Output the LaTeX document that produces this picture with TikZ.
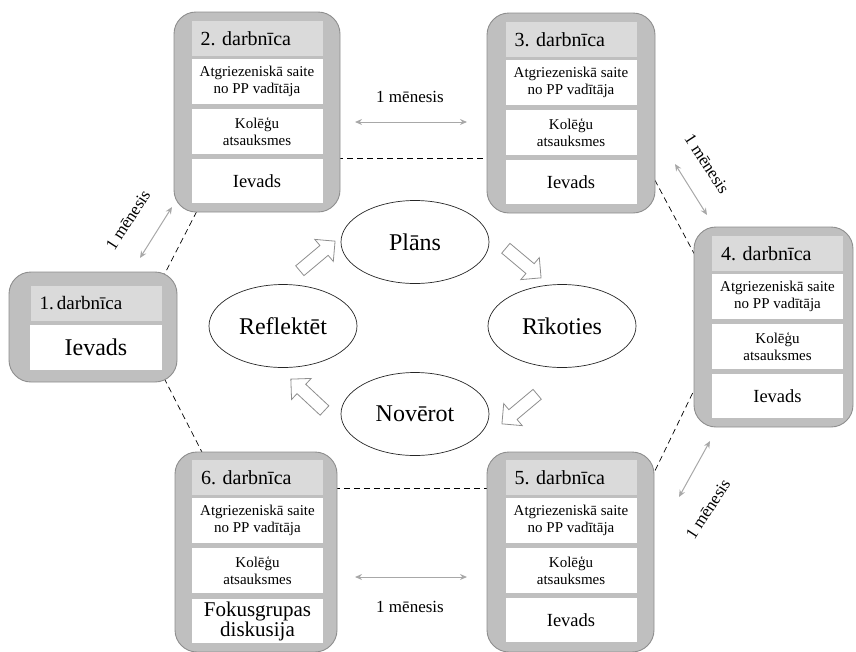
\documentclass[tikz,border=0pt]{standalone}
\usepackage{fontspec}
\setmainfont{Liberation Serif}
\usetikzlibrary{shapes.geometric,shapes.arrows,arrows.meta,backgrounds}

\definecolor{shellgray}{HTML}{BFBFBF}
\definecolor{edgegray}{HTML}{8E8E8E}
\definecolor{headgray}{HTML}{DADADA}
\definecolor{linkgray}{HTML}{A8A8A8}

\tikzset{
  shell/.style={draw=edgegray, line width=0.9pt, fill=shellgray, rounded corners=22pt, inner sep=0pt},
  headbar/.style={fill=headgray, inner sep=0pt, minimum width=131pt, minimum height=35pt,
    text width=113pt, align=left, font=\fontsize{20}{22}\selectfont},
  card/.style={fill=white, inner sep=0pt, minimum width=131pt, minimum height=45pt,
    align=center, font=\fontsize{15}{16.5}\selectfont},
  bigcard/.style={card, font=\fontsize{18.5}{21}\selectfont},
  phase/.style={ellipse, draw=black!85, line width=0.7pt, fill=white, inner sep=0pt,
    minimum width=148pt, minimum height=83pt, font=\fontsize{24}{28}\selectfont},
  turn/.style={single arrow, draw=edgegray, fill=white, line width=0.8pt, inner sep=6pt,
    minimum height=46pt, single arrow head extend=8pt, single arrow head indent=0pt},
  gap/.style={draw=linkgray, line width=1pt, {Stealth[length=7pt,width=6pt]}-{Stealth[length=7pt,width=6pt]}},
  gaptext/.style={inner sep=0pt, font=\fontsize{17}{19}\selectfont},
  seam/.style={draw=black, line width=0.7pt, dash pattern=on 6pt off 4pt}
}

\begin{document}
\frenchspacing
\begin{tikzpicture}[x=1pt, y=-1pt]
\useasboundingbox (0,0) rectangle (856,651);

% workshop frames
\node[shell, minimum width=168pt, minimum height=110pt] (b1) at (93,327) {};
\node[shell, minimum width=166pt, minimum height=200pt] (b2) at (257,112) {};
\node[shell, minimum width=168pt, minimum height=200pt] (b3) at (571,113) {};
\node[shell, minimum width=159pt, minimum height=200pt] (b4) at (773.5,327) {};
\node[shell, minimum width=167pt, minimum height=200pt] (b5) at (570.5,552) {};
\node[shell, minimum width=162pt, minimum height=200pt] (b6) at (256,552) {};

% dashed seams between neighbouring workshops, beneath the frames
\begin{scope}[on background layer]
  \draw[seam] ([shift={(69,-48)}]b1.center) -- ([shift={(-58,95)}]b2.center);
  \draw[seam] ([shift={(71,51)}]b1.center) -- ([shift={(-50,-92)}]b6.center);
  \draw[seam] ([shift={(80,46)}]b2.center) -- ([shift={(-81,45)}]b3.center);
  \draw[seam] ([shift={(79,58)}]b3.center) -- ([shift={(-76.5,-68)}]b4.center);
  \draw[seam] ([shift={(-76.5,57)}]b4.center) -- ([shift={(80.5,-73)}]b5.center);
  \draw[seam] ([shift={(78,-64)}]b6.center) -- ([shift={(-80.5,-64)}]b5.center);
\end{scope}

% workshop 1
\node[headbar, font=\fontsize{19}{22}\selectfont] (t1) at (96,303.5) {1.\,darbnīca};
\node[bigcard, minimum width=132pt, font=\fontsize{24}{28}\selectfont] (c1) at (96,347.5) {Ievads};

% workshop 2
\node[headbar] (t2) at (257,38.5) {2. darbnīca};
\node[card] (c2a) at (257,81.5) {Atgriezeniskā saite\\no PP vadītāja};
\node[card] (c2b) at (257,131.5) {Kolēģu\\atsauksmes};
\node[bigcard, minimum height=44pt] (c2c) at (257,181) {Ievads};

% workshop 3
\node[headbar] (t3) at (571,39.5) {3. darbnīca};
\node[card] (c3a) at (571,82.5) {Atgriezeniskā saite\\no PP vadītāja};
\node[card] (c3b) at (571,132.5) {Kolēģu\\atsauksmes};
\node[bigcard, minimum height=44pt] (c3c) at (571,182) {Ievads};

% workshop 4
\node[headbar] (t4) at (777.5,253.5) {4. darbnīca};
\node[card] (c4a) at (777.5,296.5) {Atgriezeniskā saite\\no PP vadītāja};
\node[card] (c4b) at (777.5,346.5) {Kolēģu\\atsauksmes};
\node[bigcard, minimum height=44pt] (c4c) at (777.5,396) {Ievads};

% workshop 5
\node[headbar] (t5) at (571,477.5) {5. darbnīca};
\node[card] (c5a) at (571,520.5) {Atgriezeniskā saite\\no PP vadītāja};
\node[card] (c5b) at (571,570.5) {Kolēģu\\atsauksmes};
\node[bigcard, minimum height=44pt] (c5c) at (571,620) {Ievads};

% workshop 6
\node[headbar] (t6) at (257.5,477.5) {6. darbnīca};
\node[card] (c6a) at (257.5,520.5) {Atgriezeniskā saite\\no PP vadītāja};
\node[card] (c6b) at (257.5,570.5) {Kolēģu\\atsauksmes};
\node[bigcard, minimum height=44pt, font=\fontsize{21}{19}\selectfont] (c6c) at (257.5,621) {Fokusgrupas\\diskusija};

% one-month intervals
\coordinate (m23a) at (355,122);  \coordinate (m23b) at (467,122);
\coordinate (m65a) at (355,577);  \coordinate (m65b) at (467,577);
\coordinate (m12a) at (140,258);  \coordinate (m12b) at (172,207);
\coordinate (m34a) at (675,164);  \coordinate (m34b) at (707,215);
\coordinate (m45a) at (710,441);  \coordinate (m45b) at (679,497);
\draw[gap] (m23a) -- (m23b);
\draw[gap] (m65a) -- (m65b);
\draw[gap] (m12a) -- (m12b);
\draw[gap] (m34a) -- (m34b);
\draw[gap] (m45a) -- (m45b);
\node[gaptext] (l23) at (410,97) {1 mēnesis};
\node[gaptext] (l65) at (410,607) {1 mēnesis};
\node[gaptext, rotate=57] (l12) at (128,220) {1 mēnesis};
\node[gaptext, rotate=-57] (l34) at (707,164) {1 mēnesis};
\node[gaptext, rotate=57] (l45) at (708,509) {1 mēnesis};

% action research cycle
\node[phase] (plan) at (415,242) {Plāns};
\node[phase] (act) at (562,326) {Rīkoties};
\node[phase] (obs) at (415,414) {Novērot};
\node[phase] (refl) at (283,326) {Reflektēt};

\node[turn, rotate=40] (r1) at (315,258) {};
\node[turn, rotate=-40] (r2) at (521,261) {};
\node[turn, rotate=220] (r3) at (522,407) {};
\node[turn, rotate=137] (r4) at (310,397) {};
\end{tikzpicture}
\end{document}
